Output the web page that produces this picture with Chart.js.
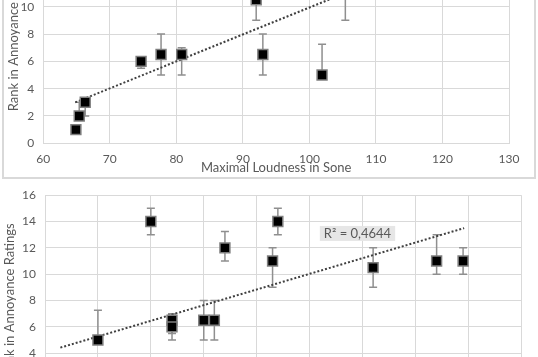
<!DOCTYPE html>
<html>
<head>
<meta charset="utf-8">
<script src="https://cdn.jsdelivr.net/npm/chart.js@4.4.1/dist/chart.umd.min.js"></script>
<style>
html,body{margin:0;padding:0;overflow:hidden;background:#fff;width:538px;height:357px;}
#frame1{position:absolute;left:2px;top:-122px;width:534px;height:301px;box-sizing:border-box;border:2px solid #d9d9d9;}
#c1{position:absolute;left:4px;top:-100px;}
#c2{position:absolute;left:0px;top:179px;}
</style>
</head>
<body>
<div id="frame1"></div>
<canvas id="c1" width="530" height="277"></canvas>
<canvas id="c2" width="538" height="262"></canvas>
<script>
// ---- Top chart: Maximal Loudness vs Rank ----
const loudness      = [64.9, 65.4, 66.3, 74.7, 77.7, 80.8, 92.0, 93.0, 101.9, 105.4];
const rankTop       = [1,    2,    3,    6,    6.5,  6.5,  10.5, 6.5,  5,     12];
const rankTopLow    = [1,    2,    2,    5.5,  5,    5,    9,    5,    5,     9];
const rankTopHigh   = [1,    3,    3,    6,    8,    7,    12,   8,    7.25,  14];
const trendTopX     = [64.8, 105.4];
const trendTopY     = [3.0, 11.0];
const xTicksTop     = [60, 70, 80, 90, 100, 110, 120, 130];
const yTicks        = [0, 2, 4, 6, 8, 10, 12, 14, 16];

// ---- Bottom chart ----
const featureBot    = [1.0, 2.0, 2.4, 2.4, 3.0, 3.2, 3.4, 4.3, 4.4, 6.2, 7.4, 7.9];
const rankBot       = [5,   14,  6.5, 6,   6.5, 6.5, 12,  11,  14,  10.5, 11, 11];
const rankBotLow    = [5,   13,  5,   5.5, 5,   5,   11,  9,   13,  9,   10,  10];
const rankBotHigh   = [7.25,15,  7,   7,   8,   8,   13.25,12, 15,  12,  13,  12];
const trendBotX     = [0.29, 7.92];
const trendBotY     = [4.42, 13.5];
const xTicksBot     = [0, 1, 2, 3, 4, 5, 6, 7, 8, 9];
const r2Label       = 'R\u00B2 = 0,4644';

const FONT = 'Lato, "Open Sans", sans-serif';
const TXT = '#595959';
const GRID = '#d9d9d9';

const errorBars = {
  id: 'errorBars',
  beforeDatasetsDraw(chart) {
    const {ctx, scales: {x, y}} = chart;
    chart.data.datasets.forEach(ds => {
      if (!ds.errLow) return;
      ctx.save();
      ctx.strokeStyle = '#8f8f8f';
      ctx.lineWidth = 1.5;
      ds.data.forEach((p, i) => {
        const lo = ds.errLow[i], hi = ds.errHigh[i];
        if (lo === hi) return;
        const px = x.getPixelForValue(p.x);
        const y1 = y.getPixelForValue(lo), y2 = y.getPixelForValue(hi);
        ctx.beginPath();
        ctx.moveTo(px, y1); ctx.lineTo(px, y2);
        ctx.moveTo(px - 4, y1); ctx.lineTo(px + 4, y1);
        ctx.moveTo(px - 4, y2); ctx.lineTo(px + 4, y2);
        ctx.stroke();
      });
      ctx.restore();
    });
  }
};

const r2Plugin = {
  id: 'r2',
  afterDatasetsDraw(chart, args, opts) {
    if (!opts.text) return;
    const {ctx, chartArea: a} = chart;
    ctx.save();
    ctx.font = '13px ' + FONT;
    const w = ctx.measureText(opts.text).width + 8;
    const bx = a.left + opts.fx * (a.right - a.left);
    const by = a.top + opts.fy * (a.bottom - a.top);
    ctx.fillStyle = '#e6e6e6';
    ctx.fillRect(bx, by, w, 15);
    ctx.fillStyle = TXT;
    ctx.textBaseline = 'middle';
    ctx.fillText(opts.text, bx + 4, by + 8);
    ctx.restore();
  }
};

function makeChart(id, cfg) {
  const pts = cfg.xs.map((v, i) => ({x: v, y: cfg.ys[i]}));
  const trend = cfg.tx.map((v, i) => ({x: v, y: cfg.ty[i]}));
  return new Chart(document.getElementById(id), {
    type: 'scatter',
    data: {
      datasets: [
        {
          type: 'line', data: trend, borderColor: '#404040', borderWidth: 2,
          borderDash: [2, 2], pointRadius: 0, fill: false, order: 2
        },
        {
          data: pts, errLow: cfg.lo, errHigh: cfg.hi,
          pointStyle: 'rect', pointRadius: 7, pointHoverRadius: 7,
          backgroundColor: '#000', borderColor: '#7f7f7f', borderWidth: 1.5, order: 1
        }
      ]
    },
    options: {
      responsive: false, animation: false, devicePixelRatio: 1,
      layout: {padding: cfg.pad},
      plugins: {legend: {display: false}, tooltip: {enabled: false}, r2: cfg.r2 || {}},
      scales: {
        x: {
          type: 'linear', min: cfg.xmin, max: cfg.xmax,
          afterBuildTicks: s => { s.ticks = cfg.xt.map(v => ({value: v})); },
          afterFit: s => { s.height = cfg.xh; },
          grid: {color: GRID, lineWidth: 1, drawTicks: false},
          border: {color: GRID, width: 1},
          ticks: {color: TXT, font: {family: FONT, size: 12}, padding: 9},
          title: {display: !!cfg.xtitle, text: cfg.xtitle || '', color: TXT,
                  font: {family: FONT, size: 13}, padding: {top: 0, bottom: 1}}
        },
        y: {
          type: 'linear', min: 0, max: 16,
          afterBuildTicks: s => { s.ticks = yTicks.map(v => ({value: v})); },
          afterFit: s => { s.width = cfg.yw; },
          grid: {color: GRID, lineWidth: 1, drawTicks: false},
          border: {display: false},
          ticks: {color: TXT, font: {family: FONT, size: 12}, padding: 9},
          title: {display: true, text: 'Rank in Annoyance Ratings', color: TXT,
                  font: {family: FONT, size: 13}, padding: {top: 2, bottom: 0}}
        }
      }
    },
    plugins: [errorBars, r2Plugin]
  });
}

makeChart('c1', {
  xs: loudness, ys: rankTop, lo: rankTopLow, hi: rankTopHigh,
  tx: trendTopX, ty: trendTopY, xt: xTicksTop, xmin: 60, xmax: 130,
  xtitle: 'Maximal Loudness in Sone',
  pad: {left: 0, right: 25, top: 24.7, bottom: 0}, yw: 39.3, xh: 33.7
});

makeChart('c2', {
  xs: featureBot, ys: rankBot, lo: rankBotLow, hi: rankBotHigh,
  tx: trendBotX, ty: trendBotY, xt: xTicksBot, xmin: 0, xmax: 9,
  xtitle: '',
  pad: {left: 0, right: 16.7, top: 14, bottom: 0}, yw: 45, xh: 35.2,
  r2: {text: r2Label, fx: 0.577, fy: 0.146}
});
</script>
</body>
</html>
